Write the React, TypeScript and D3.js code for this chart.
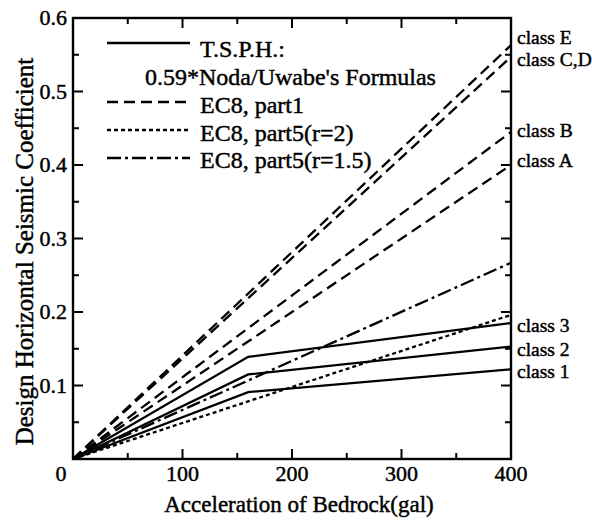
import React, { useEffect } from "react";
import * as d3 from "d3";

// ---- data ----
const tsphGal = [0, 160, 400];
const tsphClass1 = [0, 0.091, 0.122];
const tsphClass2 = [0, 0.115, 0.153];
const tsphClass3 = [0, 0.139, 0.185];

const ec8Gal = [0, 400];
const ec8ClassE = [0, 0.563];
const ec8ClassCD = [0, 0.547];
const ec8ClassB = [0, 0.445];
const ec8ClassA = [0, 0.4];

const part5Gal = [0, 400];
const part5R2 = [0, 0.196];
const part5R15 = [0, 0.267];

const xTicks = [0, 100, 200, 300, 400];
const xMinorTicks = [50, 150, 250, 350];
const yTicks = [0.1, 0.2, 0.3, 0.4, 0.5, 0.6];
const yMinorTicks = [0.05, 0.15, 0.25, 0.35, 0.45, 0.55];

const classLabels = ["class E", "class C,D", "class B", "class A", "class 3", "class 2", "class 1"];
const classEnds = [0.563, 0.547, 0.445, 0.4, 0.185, 0.153, 0.122];
const classDy = [-1, 9, 5, 2, 9, 9, 9];

const legendLabels = ["T.S.P.H.:", "EC8, part1", "EC8, part5(r=2)", "EC8, part5(r=1.5)"];
const legendSub = "0.59*Noda/Uwabe's Formulas";

const FONT = '"Liberation Serif", "DejaVu Serif", serif';

export default function App() {
  useEffect(() => {
    document.body.style.margin = "0";
  }, []);

  const W = 592;
  const H = 522;
  const x = d3.scaleLinear().domain([0, 400]).range([73, 511]);
  const y = d3.scaleLinear().domain([0, 0.6]).range([459, 18]);

  const line = (gal: number[], vals: number[]) =>
    d3.line<number>().x((_, i) => x(gal[i])).y((v) => y(v))(vals) || "";

  const dashes = {
    solid: undefined as string | undefined,
    dashed: "11,6",
    dotted: "4,3",
    dashdot: "14,4,3,4",
  };

  const series: { gal: number[]; vals: number[]; dash?: string }[] = [
    { gal: tsphGal, vals: tsphClass1, dash: dashes.solid },
    { gal: tsphGal, vals: tsphClass2, dash: dashes.solid },
    { gal: tsphGal, vals: tsphClass3, dash: dashes.solid },
    { gal: ec8Gal, vals: ec8ClassE, dash: dashes.dashed },
    { gal: ec8Gal, vals: ec8ClassCD, dash: dashes.dashed },
    { gal: ec8Gal, vals: ec8ClassB, dash: dashes.dashed },
    { gal: ec8Gal, vals: ec8ClassA, dash: dashes.dashed },
    { gal: part5Gal, vals: part5R2, dash: dashes.dotted },
    { gal: part5Gal, vals: part5R15, dash: dashes.dashdot },
  ];

  const [x0, x1] = x.range();
  const [yb, yt] = y.range();
  const major = 10;
  const minor = 6;

  const legendDash = [dashes.solid, dashes.dashed, dashes.dotted, dashes.dashdot];
  const legendLineY = [43, 102, 130, 158];
  const legendTextY = [57, 113, 141, 168];

  const ts = (size: number): React.CSSProperties => ({
    fontFamily: FONT,
    fontSize: size,
    stroke: "#000",
    strokeWidth: 0.45,
  });

  return (
    <div style={{ position: "absolute", left: 0, top: 0 }}>
      <svg width={W} height={H} style={{ display: "block", background: "#fff", fontFamily: FONT }}>
        {/* frame */}
        <rect x={x0} y={yt} width={x1 - x0} height={yb - yt} fill="none" stroke="#000" strokeWidth={2.4} />
        {/* x ticks bottom & top */}
        {xTicks.concat(xMinorTicks).map((t) => {
          const len = xTicks.includes(t) ? major : minor;
          return (
            <g key={"xt" + t}>
              <line x1={x(t)} x2={x(t)} y1={yb} y2={yb - len} stroke="#000" strokeWidth={2} />
              <line x1={x(t)} x2={x(t)} y1={yt} y2={yt + len} stroke="#000" strokeWidth={2} />
            </g>
          );
        })}
        {/* y ticks left & right */}
        {yTicks.concat(yMinorTicks).map((t) => {
          const len = yTicks.includes(t) ? major : minor;
          return (
            <g key={"yt" + t}>
              <line x1={x0} x2={x0 + len} y1={y(t)} y2={y(t)} stroke="#000" strokeWidth={2} />
              <line x1={x1} x2={x1 - len} y1={y(t)} y2={y(t)} stroke="#000" strokeWidth={2} />
            </g>
          );
        })}
        {/* tick labels */}
        {xTicks.map((t) => (
          <text key={"xl" + t} x={t === 0 ? x(t) - 12 : x(t)} y={481} style={ts(22)} textAnchor="middle">
            {t}
          </text>
        ))}
        {yTicks.map((t) => (
          <text key={"yl" + t} x={67} y={y(t) + 7} style={ts(22)} textAnchor="end">
            {d3.format(".1f")(t)}
          </text>
        ))}
        {/* axis titles */}
        <text x={(x0 + x1) / 2 + 7} y={512} style={ts(23)} textAnchor="middle">
          Acceleration of Bedrock(gal)
        </text>
        <text transform={`translate(33, ${(yb + yt) / 2 + 13}) rotate(-90)`} style={ts(25)} textAnchor="middle">
          Design Horizontal Seismic Coefficient
        </text>
        {/* series */}
        {series.map((s, i) => (
          <path
            key={"s" + i}
            d={line(s.gal, s.vals)}
            fill="none"
            stroke="#000"
            strokeWidth={2.3}
            strokeDasharray={s.dash}
          />
        ))}
        {/* class labels */}
        {classLabels.map((l, i) => (
          <text key={"cl" + i} x={517} y={y(classEnds[i]) + classDy[i]} style={ts(19.5)}>
            {l}
          </text>
        ))}
        {/* legend */}
        {legendLabels.map((l, i) => (
          <g key={"lg" + i}>
            <line
              x1={107}
              x2={190}
              y1={legendLineY[i]}
              y2={legendLineY[i]}
              stroke="#000"
              strokeWidth={2.3}
              strokeDasharray={legendDash[i]}
            />
            <text x={200} y={legendTextY[i]} style={ts(24)}>
              {l}
            </text>
          </g>
        ))}
        <text x={145} y={85} style={ts(24)}>
          {legendSub}
        </text>
      </svg>
    </div>
  );
}
